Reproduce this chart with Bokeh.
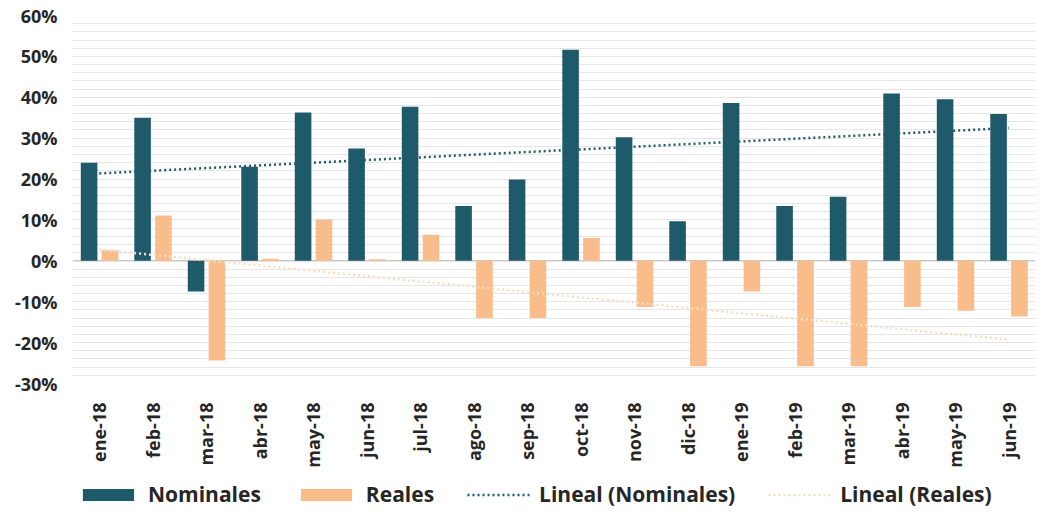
import numpy as np
from bokeh.plotting import figure
from bokeh.layouts import column
from bokeh.models import (ColumnDataSource, FactorRange, Range1d, Legend, LegendItem,
                          SingleIntervalTicker, PrintfTickFormatter, Span)
from bokeh.transform import dodge
from bokeh.embed import file_html
from bokeh.resources import INLINE

# ---- data (percent) ----
months = ["ene-18", "feb-18", "mar-18", "abr-18", "may-18", "jun-18", "jul-18",
          "ago-18", "sep-18", "oct-18", "nov-18", "dic-18", "ene-19", "feb-19",
          "mar-19", "abr-19", "may-19", "jun-19"]
nominales = [24.0, 35.0, -7.5, 23.0, 36.3, 27.5, 37.7, 13.4, 19.9, 51.6, 30.2, 9.7,
             38.6, 13.4, 15.7, 40.9, 39.5, 35.9]
reales = [2.6, 11.1, -24.4, 0.5, 10.1, 0.4, 6.4, -14.0, -14.0, 5.6, -11.3, -25.8,
          -7.5, -25.8, -25.8, -11.3, -12.2, -13.6]
legend_labels = ["Nominales", "Reales", "Lineal (Nominales)", "Lineal (Reales)"]

FONT = "Open Sans"
TEAL = "#1f5a6b"
PEACH = "#f8bd8b"
PEACH_LIGHT = "#fbdcc2"
TEXT = "#262626"

# linear trends computed from the series
idx = np.arange(len(months))
trend_nom = np.polyval(np.polyfit(idx, nominales, 1), idx)
trend_rea = np.polyval(np.polyfit(idx, reales, 1), idx)

src = ColumnDataSource(dict(m=months, nom=nominales, rea=reales,
                            tn=trend_nom, tr=trend_rea))

p = figure(x_range=FactorRange(*months), y_range=Range1d(-30, 60),
           width=1036, height=470,
           min_border_left=72, min_border_right=1, min_border_top=15, min_border_bottom=87,
           output_backend="svg", toolbar_location=None)
p.outline_line_color = None
p.background_fill_color = "white"
p.border_fill_color = "white"

# grid
p.xgrid.visible = False
p.ygrid.ticker = SingleIntervalTicker(interval=2)
p.ygrid.grid_line_color = "#e6e6e6"
p.ygrid.grid_line_width = 1

# zero line
p.add_layout(Span(location=0, dimension="width", line_color="#c9c9c9", line_width=1.5, level="underlay"))

BAR_KW = dict(width=0.31, source=src, line_color=None)
r1 = p.vbar(x=dodge("m", -0.19, range=p.x_range), top="nom", fill_color=TEAL, **BAR_KW)
r2 = p.vbar(x=dodge("m", 0.2, range=p.x_range), top="rea", fill_color=PEACH, **BAR_KW)
r3 = p.line(x="m", y="tn", source=src, line_color=TEAL, line_width=2.5, line_dash="2 3")
r4 = p.line(x="m", y="tr", source=src, line_color=PEACH_LIGHT, line_width=2.5, line_dash="2 3")

# axes
p.yaxis.ticker = SingleIntervalTicker(interval=10)
p.yaxis.formatter = PrintfTickFormatter(format="%d%%")
p.yaxis.axis_line_color = None
p.yaxis.major_tick_line_color = None
p.yaxis.minor_tick_line_color = None
p.yaxis.major_label_standoff = 9
p.yaxis.major_label_text_font = FONT
p.yaxis.major_label_text_font_size = "18px"
p.yaxis.major_label_text_font_style = "bold"
p.yaxis.major_label_text_color = TEXT

p.xaxis.axis_line_color = None
p.xaxis.major_tick_line_color = None
p.xaxis.minor_tick_line_color = None
p.xaxis.major_label_orientation = np.pi / 2
p.xaxis.major_label_standoff = 13
p.xaxis.major_label_text_font = FONT
p.xaxis.major_label_text_font_size = "18px"
p.xaxis.major_label_text_font_style = "bold"
p.xaxis.major_label_text_color = TEXT

# ---- legend strip: same series drawn outside its visible range, only the legend shows ----
lg = figure(width=1036, height=38, x_range=FactorRange(*months), y_range=Range1d(1000, 1001),
            x_axis_location=None, y_axis_location=None,
            min_border_left=72, min_border_right=1, min_border_top=0, min_border_bottom=0,
            output_backend="svg", toolbar_location=None)
lg.outline_line_color = None
lg.grid.visible = False
lg.background_fill_color = "white"
lg.border_fill_color = "white"
l1 = lg.vbar(x="m", top="nom", fill_color=TEAL, **BAR_KW)
l2 = lg.vbar(x="m", top="rea", fill_color=PEACH, **BAR_KW)
l3 = lg.line(x="m", y="tn", source=src, line_color=TEAL, line_width=2.5, line_dash="2 3")
l4 = lg.line(x="m", y="tr", source=src, line_color=PEACH_LIGHT, line_width=2.5, line_dash="2 3")

legend = Legend(items=[LegendItem(label=legend_labels[0], renderers=[l1]),
                       LegendItem(label=legend_labels[1], renderers=[l2]),
                       LegendItem(label=legend_labels[2], renderers=[l3]),
                       LegendItem(label=legend_labels[3], renderers=[l4])],
                orientation="horizontal", location=(4, 0),
                glyph_width=64, glyph_height=15, label_standoff=8, spacing=33,
                padding=0, margin=0,
                border_line_color=None, background_fill_alpha=0,
                label_text_font=FONT, label_text_font_size="21px",
                label_text_font_style="bold", label_text_color=TEXT)
lg.add_layout(legend)

layout = column(p, lg, spacing=0)
open("out.html", "w").write(file_html(layout, INLINE))
